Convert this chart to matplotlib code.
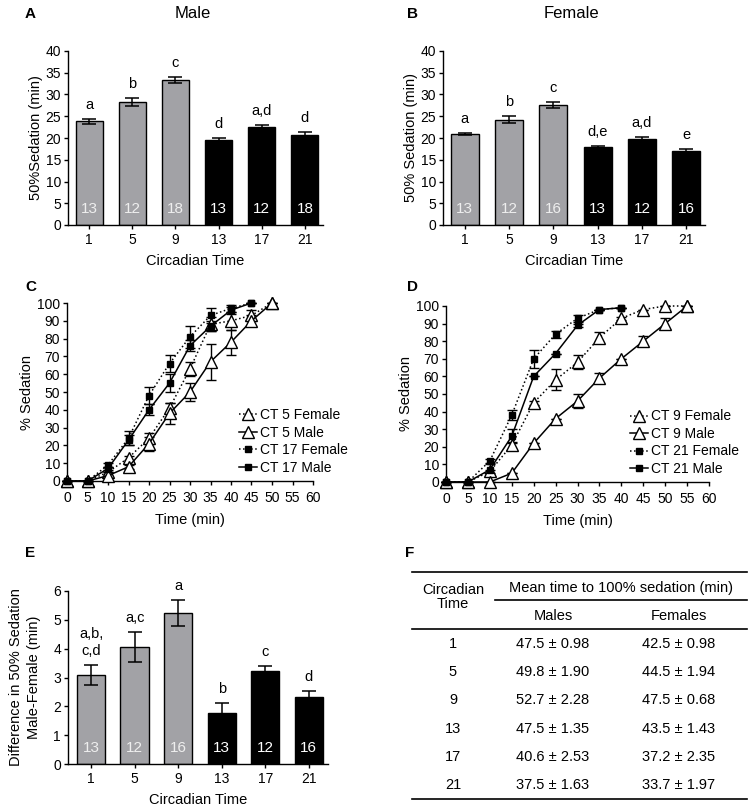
import numpy as np
import matplotlib
matplotlib.use("Agg")
import matplotlib.pyplot as plt
from matplotlib.lines import Line2D

plt.rcParams['font.family'] = ['Liberation Sans', 'DejaVu Sans']
plt.rcParams['axes.linewidth'] = 1.0

# ---- data ----
ct_labels = ['1', '5', '9', '13', '17', '21']

male_50 = [23.8, 28.3, 33.3, 19.6, 22.6, 20.8]
male_50_err = [0.5, 1.0, 0.7, 0.3, 0.4, 0.5]
male_sig = ['a', 'b', 'c', 'd', 'a,d', 'd']
male_n = ['13', '12', '18', '13', '12', '18']

female_50 = [20.9, 24.2, 27.6, 17.9, 19.7, 16.9]
female_50_err = [0.3, 0.8, 0.6, 0.3, 0.5, 0.5]
female_sig = ['a', 'b', 'c', 'd,e', 'a,d', 'e']
female_n = ['13', '12', '16', '13', '12', '16']

diff_50 = [3.1, 4.05, 5.25, 1.78, 3.22, 2.33]
diff_50_err = [0.35, 0.52, 0.45, 0.35, 0.18, 0.2]
diff_sig = ['a,b,\nc,d', 'a,c', 'a', 'b', 'c', 'd']
diff_n = ['13', '12', '16', '13', '12', '16']

time_c = [0, 5, 10, 15, 20, 25, 30, 35, 40, 45, 50]
ct5_f = [0, 0, 5, 13, 24, 41, 63, 88, 90, 93, 100]
ct5_f_err = [0, 0, 0, 1, 3, 3, 4, 4, 5, 3, 0]
ct5_m = [0, 0, 3, 8, 21, 38, 50, 67, 78, 90, 100]
ct5_m_err = [0, 0, 0, 1, 4, 6, 5, 10, 7, 3, 0]
time_c17 = [0, 5, 10, 15, 20, 25, 30, 35, 40, 45]
ct17_f = [0, 0, 9, 24, 48, 66, 81, 93, 97, 100]
ct17_f_err = [0, 0, 1, 4, 5, 5, 6, 4, 2, 0]
ct17_m = [0, 0, 7, 23, 40, 55, 76, 87, 96, 100]
ct17_m_err = [0, 0, 1, 3, 3, 5, 3, 3, 2, 0]

time_d9 = [0, 5, 10, 15, 20, 25, 30, 35, 40, 45, 50, 55]
ct9_f = [0, 0, 6, 21, 45, 58, 68, 82, 93, 98, 100, 100]
ct9_f_err = [0, 0, 1, 2, 1, 6, 4, 3, 1, 0, 0, 0]
ct9_m = [0, 0, 0, 5, 22, 36, 46, 59, 70, 80, 90, 100]
ct9_m_err = [0, 0, 0, 0, 0, 0, 4, 3, 0, 3, 3, 0]
time_d21 = [0, 5, 10, 15, 20, 25, 30, 35, 40]
ct21_f = [0, 0, 12, 38, 70, 84, 93, 98, 99]
ct21_f_err = [0, 0, 1, 3, 5, 2, 2, 0, 0]
ct21_m = [0, 0, 7, 26, 60, 73, 89, 98, 99]
ct21_m_err = [0, 0, 3, 4, 0, 0, 1, 0, 0]

table_ct = ['1', '5', '9', '13', '17', '21']
table_males = ['47.5 ± 0.98', '49.8 ± 1.90', '52.7 ± 2.28', '47.5 ± 1.35', '40.6 ± 2.53', '37.5 ± 1.63']
table_females = ['42.5 ± 0.98', '44.5 ± 1.94', '47.5 ± 0.68', '43.5 ± 1.43', '37.2 ± 2.35', '33.7 ± 1.97']

W, H = 754, 811
fig = plt.figure(figsize=(W / 100, H / 100), dpi=100)

def px_ax(l, t, r, b):
    return fig.add_axes([l / W, 1 - b / H, (r - l) / W, (b - t) / H])

GRAY = '#a2a2a6'
bar_colors = [GRAY] * 3 + ['black'] * 3
n_colors = ['#eeeeee'] * 3 + ['white'] * 3
TICK_FS = 10
LAB_FS = 10.5

def style(ax):
    for s in ['top', 'right']:
        ax.spines[s].set_visible(False)
    ax.tick_params(direction='out', length=3, width=1, labelsize=TICK_FS, pad=2)

def bar_panel(ax, vals, errs, sig, ns, ymax, ystep, nlab_y, width, xlim):
    x = np.arange(len(vals))
    ax.bar(x, vals, width=width, color=bar_colors, edgecolor='black', linewidth=1)
    ax.errorbar(x, vals, yerr=errs, fmt='none', ecolor='black', elinewidth=1.1,
                capsize=5, capthick=1.1)
    for xi, v, e, s in zip(x, vals, errs, sig):
        ax.annotate(s, (xi, v + e), xytext=(0, 5), textcoords='offset points',
                    ha='center', va='bottom', fontsize=LAB_FS, linespacing=1.2)
    for xi, n, c in zip(x, ns, n_colors):
        ax.text(xi, nlab_y, n, ha='center', va='center', color=c, fontsize=11)
    ax.set_xticks(x)
    ax.set_xticklabels(ct_labels)
    ax.set_xlim(*xlim)
    ax.set_ylim(0, ymax)
    ax.set_yticks(np.arange(0, ymax + ystep / 2, ystep))
    ax.set_xlabel('Circadian Time', fontsize=LAB_FS, labelpad=5)
    style(ax)
    ax.tick_params(axis='x', pad=3)

# ---- A ----
axA = px_ax(68, 51, 323, 225)
bar_panel(axA, male_50, male_50_err, male_sig, male_n, 40, 5, 3.7, 0.63, (-0.49, 5.42))
axA.set_ylabel('50%Sedation (min)', fontsize=LAB_FS, labelpad=2)
fig.text(193 / W, 1 - 14 / H, 'Male', ha='center', va='center', fontsize=12)
fig.text(25 / W, 1 - 14 / H, 'A', ha='left', va='center', fontsize=11, fontweight='bold')

# ---- B ----
axB = px_ax(443, 51, 705, 225)
bar_panel(axB, female_50, female_50_err, female_sig, female_n, 40, 5, 3.7, 0.63, (-0.49, 5.42))
axB.set_ylabel('50% Sedation (min)', fontsize=LAB_FS, labelpad=2)
fig.text(571 / W, 1 - 14 / H, 'Female', ha='center', va='center', fontsize=12)
fig.text(407 / W, 1 - 14 / H, 'B', ha='left', va='center', fontsize=11, fontweight='bold')

# ---- curve panels ----
def curve(ax, t, y, e, ls, marker, label):
    if marker == '^':
        mkw = dict(marker='^', markersize=8, markerfacecolor='white',
                   markeredgecolor='black', markeredgewidth=1)
    else:
        mkw = dict(marker='s', markersize=5, markerfacecolor='black',
                   markeredgecolor='black')
    ax.errorbar(t, y, yerr=e, fmt='none', ecolor='black', elinewidth=1,
                capsize=3.5, capthick=1, clip_on=False)
    ax.plot(t, y, color='black', linestyle=ls, linewidth=1.1, label=label,
            clip_on=False, zorder=3, **mkw)

def curve_style(ax):
    ax.set_xlim(0, 60)
    ax.set_ylim(0, 100)
    ax.set_xticks(np.arange(0, 61, 5))
    ax.set_yticks(np.arange(0, 101, 10))
    ax.set_xlabel('Time (min)', fontsize=LAB_FS, labelpad=6)
    ax.set_ylabel('% Sedation', fontsize=LAB_FS, labelpad=2)
    style(ax)
    ax.tick_params(axis='x', pad=4)
    ax.legend(loc='lower left', bbox_to_anchor=(0.70, 0.035), frameon=False,
              fontsize=10, handlelength=1.3, handletextpad=0.2,
              labelspacing=0.25, numpoints=1, borderaxespad=0, borderpad=0)

axC = px_ax(67, 303, 313, 481)
curve(axC, time_c, ct5_f, ct5_f_err, ':', '^', 'CT 5 Female')
curve(axC, time_c, ct5_m, ct5_m_err, '-', '^', 'CT 5 Male')
curve(axC, time_c17, ct17_f, ct17_f_err, ':', 's', 'CT 17 Female')
curve(axC, time_c17, ct17_m, ct17_m_err, '-', 's', 'CT 17 Male')
curve_style(axC)
fig.text(25 / W, 1 - 287 / H, 'C', ha='left', va='center', fontsize=11, fontweight='bold')

axD = px_ax(446, 306, 709, 482)
curve(axD, time_d9, ct9_f, ct9_f_err, ':', '^', 'CT 9 Female')
curve(axD, time_d9, ct9_m, ct9_m_err, '-', '^', 'CT 9 Male')
curve(axD, time_d21, ct21_f, ct21_f_err, ':', 's', 'CT 21 Female')
curve(axD, time_d21, ct21_m, ct21_m_err, '-', 's', 'CT 21 Male')
curve_style(axD)
fig.text(407 / W, 1 - 287 / H, 'D', ha='left', va='center', fontsize=11, fontweight='bold')

# ---- E ----
axE = px_ax(68, 591, 328, 764)
bar_panel(axE, diff_50, diff_50_err, diff_sig, diff_n, 6, 1, 0.55, 0.65, (-0.53, 5.44))
axE.set_ylabel('Difference in 50% Sedation\nMale-Female (min)', fontsize=LAB_FS,
               labelpad=9, linespacing=1.3)
fig.text(25 / W, 1 - 553 / H, 'E', ha='left', va='center', fontsize=11, fontweight='bold')

# ---- F table ----
fig.text(405 / W, 1 - 553 / H, 'F', ha='left', va='center', fontsize=11, fontweight='bold')
axF = fig.add_axes([0, 0, 1, 1])
axF.set_xlim(0, W)
axF.set_ylim(H, 0)
axF.axis('off')
TFS = 10.5
for y0, x0 in [(572, 412), (600, 495), (629, 412), (799, 412)]:
    axF.add_line(Line2D([x0, 747], [y0, y0], color='black', linewidth=1.2))
axF.text(453, 597, 'Circadian\nTime', ha='center', va='center', fontsize=TFS, linespacing=1.05)
axF.text(621, 588, 'Mean time to 100% sedation (min)', ha='center', va='center', fontsize=TFS)
axF.text(553, 616, 'Males', ha='center', va='center', fontsize=TFS)
axF.text(679, 616, 'Females', ha='center', va='center', fontsize=TFS)
for i, (c, m, f) in enumerate(zip(table_ct, table_males, table_females)):
    y = 644 + i * 28.2
    axF.text(453, y, c, ha='center', va='center', fontsize=TFS)
    axF.text(553, y, m, ha='center', va='center', fontsize=TFS)
    axF.text(679, y, f, ha='center', va='center', fontsize=TFS)

fig.savefig('out.png', dpi=100)
